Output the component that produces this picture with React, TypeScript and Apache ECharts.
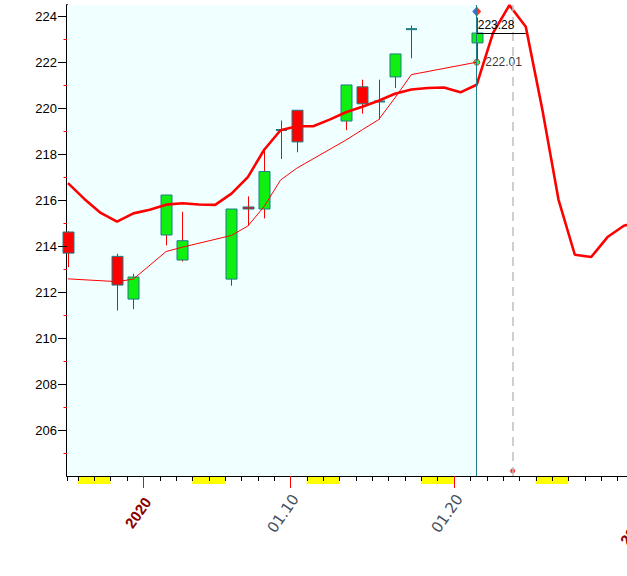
import React, { useEffect, useRef } from 'react';
import * as echarts from 'echarts';

// Day index counted from 2019-12-27 (Friday); every calendar day is one slot on the x axis.
const tradeDays = [0, 3, 4, 6, 7, 10, 11, 12, 13, 14, 17, 18, 19, 20, 21, 25];
const opens = [214.62, 213.56, 211.70, 214.49, 213.40, 212.57, 215.71, 215.62, 219.06, 219.92, 219.45, 220.94, 220.30, 221.37, 223.45, 222.85];
const closes = [213.70, 212.31, 212.66, 216.23, 214.24, 215.62, 215.62, 217.25, 219.06, 218.54, 221.02, 220.20, 220.30, 222.37, 223.45, 223.28];
const lows = [213.09, 211.20, 211.26, 214.04, 213.34, 212.28, 214.89, 215.21, 217.80, 218.09, 219.05, 219.77, 219.51, 220.89, 222.18, 222.05];
const highs = [214.65, 213.67, 212.80, 216.23, 215.50, 215.62, 216.17, 218.16, 219.47, 219.92, 221.02, 221.25, 221.25, 222.37, 223.61, 223.96];
const maValues = [212.58, 212.46, 212.57, 213.77, 213.96, 214.47, 214.88, 215.73, 216.88, 217.40, 218.62, 219.07, 219.51, 220.46, 221.47, 222.01];
// thick trend / forecast line, one value per calendar day (day 0 .. 35)
const trendValues = [216.75, 216.06, 215.45, 215.07, 215.43, 215.59, 215.81, 215.87, 215.82, 215.80, 216.29, 217.01, 218.20, 219.05, 219.22, 219.22, 219.51, 219.83, 220.07, 220.33, 220.64, 220.82, 220.89, 220.91, 220.70, 221.03, 223.29, 224.49, 223.55, 220.00, 216.03, 213.63, 213.53, 214.40, 214.89, 215.10];
const weekendStartDays = [1, 8, 15, 22, 29];
const labelDays = [5, 14, 24, 36];
const labelTexts = ['2020', '01.10', '01.20', '2020.02'];
const labelIsPeriod = [true, false, false, true];
const yLabelValues = [206, 208, 210, 212, 214, 216, 218, 220, 222, 224];
const yMinorValues = [205, 207, 209, 211, 213, 215, 217, 219, 221, 223];
const lastClose = 223.28;
const lastMA = 222.01;
const lastDay = 25;
const priceLineEndDay = 28;
const forecastMarkDay = 27.2;

const Y_MIN = 204;
const Y_MAX = 224.5;
const X_MIN = 0.34;
const X_MAX = 40.34;
const IN_DAY = 0.4; // where a day's mark sits inside its slot
const FONT = 'Arial, "Liberation Sans", sans-serif';

export default function App() {
  const ref = useRef<HTMLDivElement>(null);
  useEffect(() => {
    if (!ref.current) return;
    const chart = echarts.init(ref.current, undefined, { renderer: 'svg' });
    const lastX = lastDay + IN_DAY;

    const candleData = tradeDays.map((d, i) => [d + IN_DAY, opens[i], closes[i], lows[i], highs[i]]);
    const maData = tradeDays.map((d, i) => [d + IN_DAY, maValues[i]]);
    const trendData = trendValues.map((v, d) => [d + IN_DAY, v]);

    const tickData: number[][] = [[X_MIN, Y_MIN, 0]];
    for (let k = 1; k <= 40; k++) tickData.push([k, Y_MIN, labelDays.indexOf(k) >= 0 ? 1 : 0]);
    yLabelValues.forEach((v) => tickData.push([X_MIN, v, 2]));
    yMinorValues.forEach((v) => tickData.push([X_MIN, v, 3]));

    const option: any = {
      animation: false,
      grid: { left: 67, right: 0, top: 5, bottom: 100 },
      xAxis: {
        type: 'value',
        min: X_MIN,
        max: X_MAX,
        minInterval: 1,
        maxInterval: 1,
        axisLine: { lineStyle: { color: '#000', width: 1 } },
        axisTick: { show: false },
        splitLine: { show: false },
        axisLabel: { show: false },
      },
      yAxis: {
        type: 'value',
        min: Y_MIN,
        max: Y_MAX,
        interval: 2,
        axisLine: { show: true, lineStyle: { color: '#000', width: 2 } },
        axisTick: { show: false },
        splitLine: { show: false },
        axisLabel: {
          margin: 10,
          color: '#000',
          fontSize: 13,
          fontFamily: FONT,
          formatter: (v: number) => (yLabelValues.indexOf(v) >= 0 ? String(v) : ''),
        },
      },
      series: [
        {
          type: 'line',
          data: [],
          silent: true,
          markArea: {
            silent: true,
            itemStyle: { color: '#F0FFFF' },
            data: [[{ xAxis: X_MIN }, { xAxis: lastX }]],
          },
          markLine: {
            silent: true,
            symbol: ['none', 'none'],
            label: { show: false },
            data: [
              { xAxis: lastX, lineStyle: { color: '#1A7F86', width: 1, type: 'solid' } },
              { xAxis: forecastMarkDay + IN_DAY, lineStyle: { color: '#C0C0C0', width: 1.5, type: [9, 6] } },
              [
                {
                  coord: [lastX, lastClose],
                  lineStyle: { color: '#000', width: 1, type: 'solid' },
                  label: {
                    show: true,
                    position: 'insideStartTop',
                    formatter: lastClose.toFixed(2),
                    color: '#000',
                    fontSize: 12,
                    fontFamily: FONT,
                    distance: [1, 2],
                  },
                },
                { coord: [priceLineEndDay + IN_DAY, lastClose] },
              ],
            ],
          },
        },
        {
          type: 'custom',
          name: 'candles',
          data: candleData,
          encode: { x: 0, y: [1, 2, 3, 4] },
          renderItem: (_p: any, api: any) => {
            const x = api.value(0);
            const o = api.value(1);
            const c = api.value(2);
            const l = api.value(3);
            const h = api.value(4);
            const pH = api.coord([x, h]);
            const pL = api.coord([x, l]);
            const pO = api.coord([x, o]);
            const pC = api.coord([x, c]);
            const cx = Math.round(pH[0]) + 0.5;
            const w = 11;
            const top = Math.min(pO[1], pC[1]);
            const bh = Math.abs(pO[1] - pC[1]);
            const children: any[] = [
              { type: 'line', shape: { x1: cx, y1: pH[1], x2: cx, y2: pL[1] }, style: { stroke: '#FF0000', lineWidth: 1 } },
            ];
            if (bh < 1) {
              children.push({ type: 'line', shape: { x1: cx - w / 2, y1: top, x2: cx + w / 2, y2: top }, style: { stroke: '#1A7F86', lineWidth: 2 } });
            } else {
              children.push({
                type: 'rect',
                shape: { x: cx - w / 2, y: top, width: w, height: bh },
                style: { fill: c >= o ? '#10F010' : '#FF0000', stroke: '#1A7F86', lineWidth: 1 },
              });
            }
            return { type: 'group', children };
          },
        },
        {
          type: 'line',
          name: 'MA',
          data: maData,
          symbol: 'none',
          lineStyle: { color: '#FF0000', width: 1 },
        },
        {
          type: 'line',
          name: 'trend',
          data: trendData,
          symbol: 'none',
          lineStyle: { color: '#FF0000', width: 2.6 },
        },
        {
          type: 'scatter',
          data: [[lastX, lastMA]],
          symbol: 'circle',
          symbolSize: 6,
          itemStyle: { color: '#10F010', borderColor: '#FF0000', borderWidth: 1 },
          label: {
            show: true,
            position: 'right',
            distance: 5,
            formatter: lastMA.toFixed(2),
            color: '#000',
            fontSize: 12,
            fontFamily: FONT,
          },
        },
        {
          type: 'scatter',
          data: [[lastX, 224.22]],
          symbol: 'path://M10,0 L0,10 L10,20 Z',
          symbolSize: [4.5, 10],
          symbolOffset: [-2.25, 0],
          itemStyle: { color: '#1E44D8' },
        },
        {
          type: 'scatter',
          data: [[lastX, 224.22]],
          symbol: 'path://M0,0 L10,10 L0,20 Z',
          symbolSize: [4.5, 10],
          symbolOffset: [2.25, 0],
          itemStyle: { color: '#FF0000' },
        },
        {
          type: 'scatter',
          data: [[forecastMarkDay + IN_DAY, 204.22]],
          symbol: 'circle',
          symbolSize: 5,
          itemStyle: { color: '#FF0000' },
        },
        {
          type: 'custom',
          name: 'weekends',
          data: weekendStartDays.map((d) => [d, d + 2]),
          encode: { x: [0, 1] },
          clip: false,
          renderItem: (_p: any, api: any) => {
            const a = api.coord([api.value(0), Y_MIN]);
            const b = api.coord([api.value(1), Y_MIN]);
            return { type: 'rect', shape: { x: a[0], y: a[1] + 1, width: b[0] - a[0], height: 7 }, style: { fill: '#FFFF00' } };
          },
        },
        {
          type: 'custom',
          name: 'ticks',
          data: tickData,
          encode: { x: 0, y: 1 },
          clip: false,
          renderItem: (_p: any, api: any) => {
            const kind = api.value(2);
            const p = api.coord([api.value(0), api.value(1)]);
            if (kind <= 1) {
              const x = Math.round(p[0]) + 0.5;
              const line = {
                type: 'line',
                shape: { x1: x, y1: p[1], x2: x, y2: p[1] + (kind === 1 ? 12 : 5) },
                style: { stroke: kind === 1 ? '#FF0000' : '#000', lineWidth: 1 },
              };
              if (kind === 0) return line;
              const i = labelDays.indexOf(Math.round(api.value(0)));
              const period = labelIsPeriod[i];
              return {
                type: 'group',
                children: [
                  line,
                  {
                    type: 'text',
                    x: x + (period ? 4 : 5),
                    y: p[1] + (period ? 23 : 20),
                    rotation: (55 * Math.PI) / 180,
                    style: {
                      text: labelTexts[i],
                      fill: period ? '#8B0000' : '#45505C',
                      font: period ? `bold 15px ${FONT}` : '15px "DejaVu Sans", Verdana, sans-serif',
                      align: 'right',
                      verticalAlign: 'middle',
                    },
                  },
                ],
              };
            }
            const y = Math.round(p[1]) + 0.5;
            return {
              type: 'line',
              shape: { x1: p[0] - (kind === 2 ? 9 : 3.5), y1: y, x2: p[0], y2: y },
              style: { stroke: kind === 2 ? '#000' : '#FF0000', lineWidth: 1 },
            };
          },
        },
      ],
    };
    chart.setOption(option);
    return () => chart.dispose();
  }, []);

  return (
    <div style={{ position: 'fixed', left: 0, top: 0, width: 627, height: 576, overflow: 'hidden', background: '#fff' }}>
      <div ref={ref} style={{ width: 721, height: 576 }} />
    </div>
  );
}
